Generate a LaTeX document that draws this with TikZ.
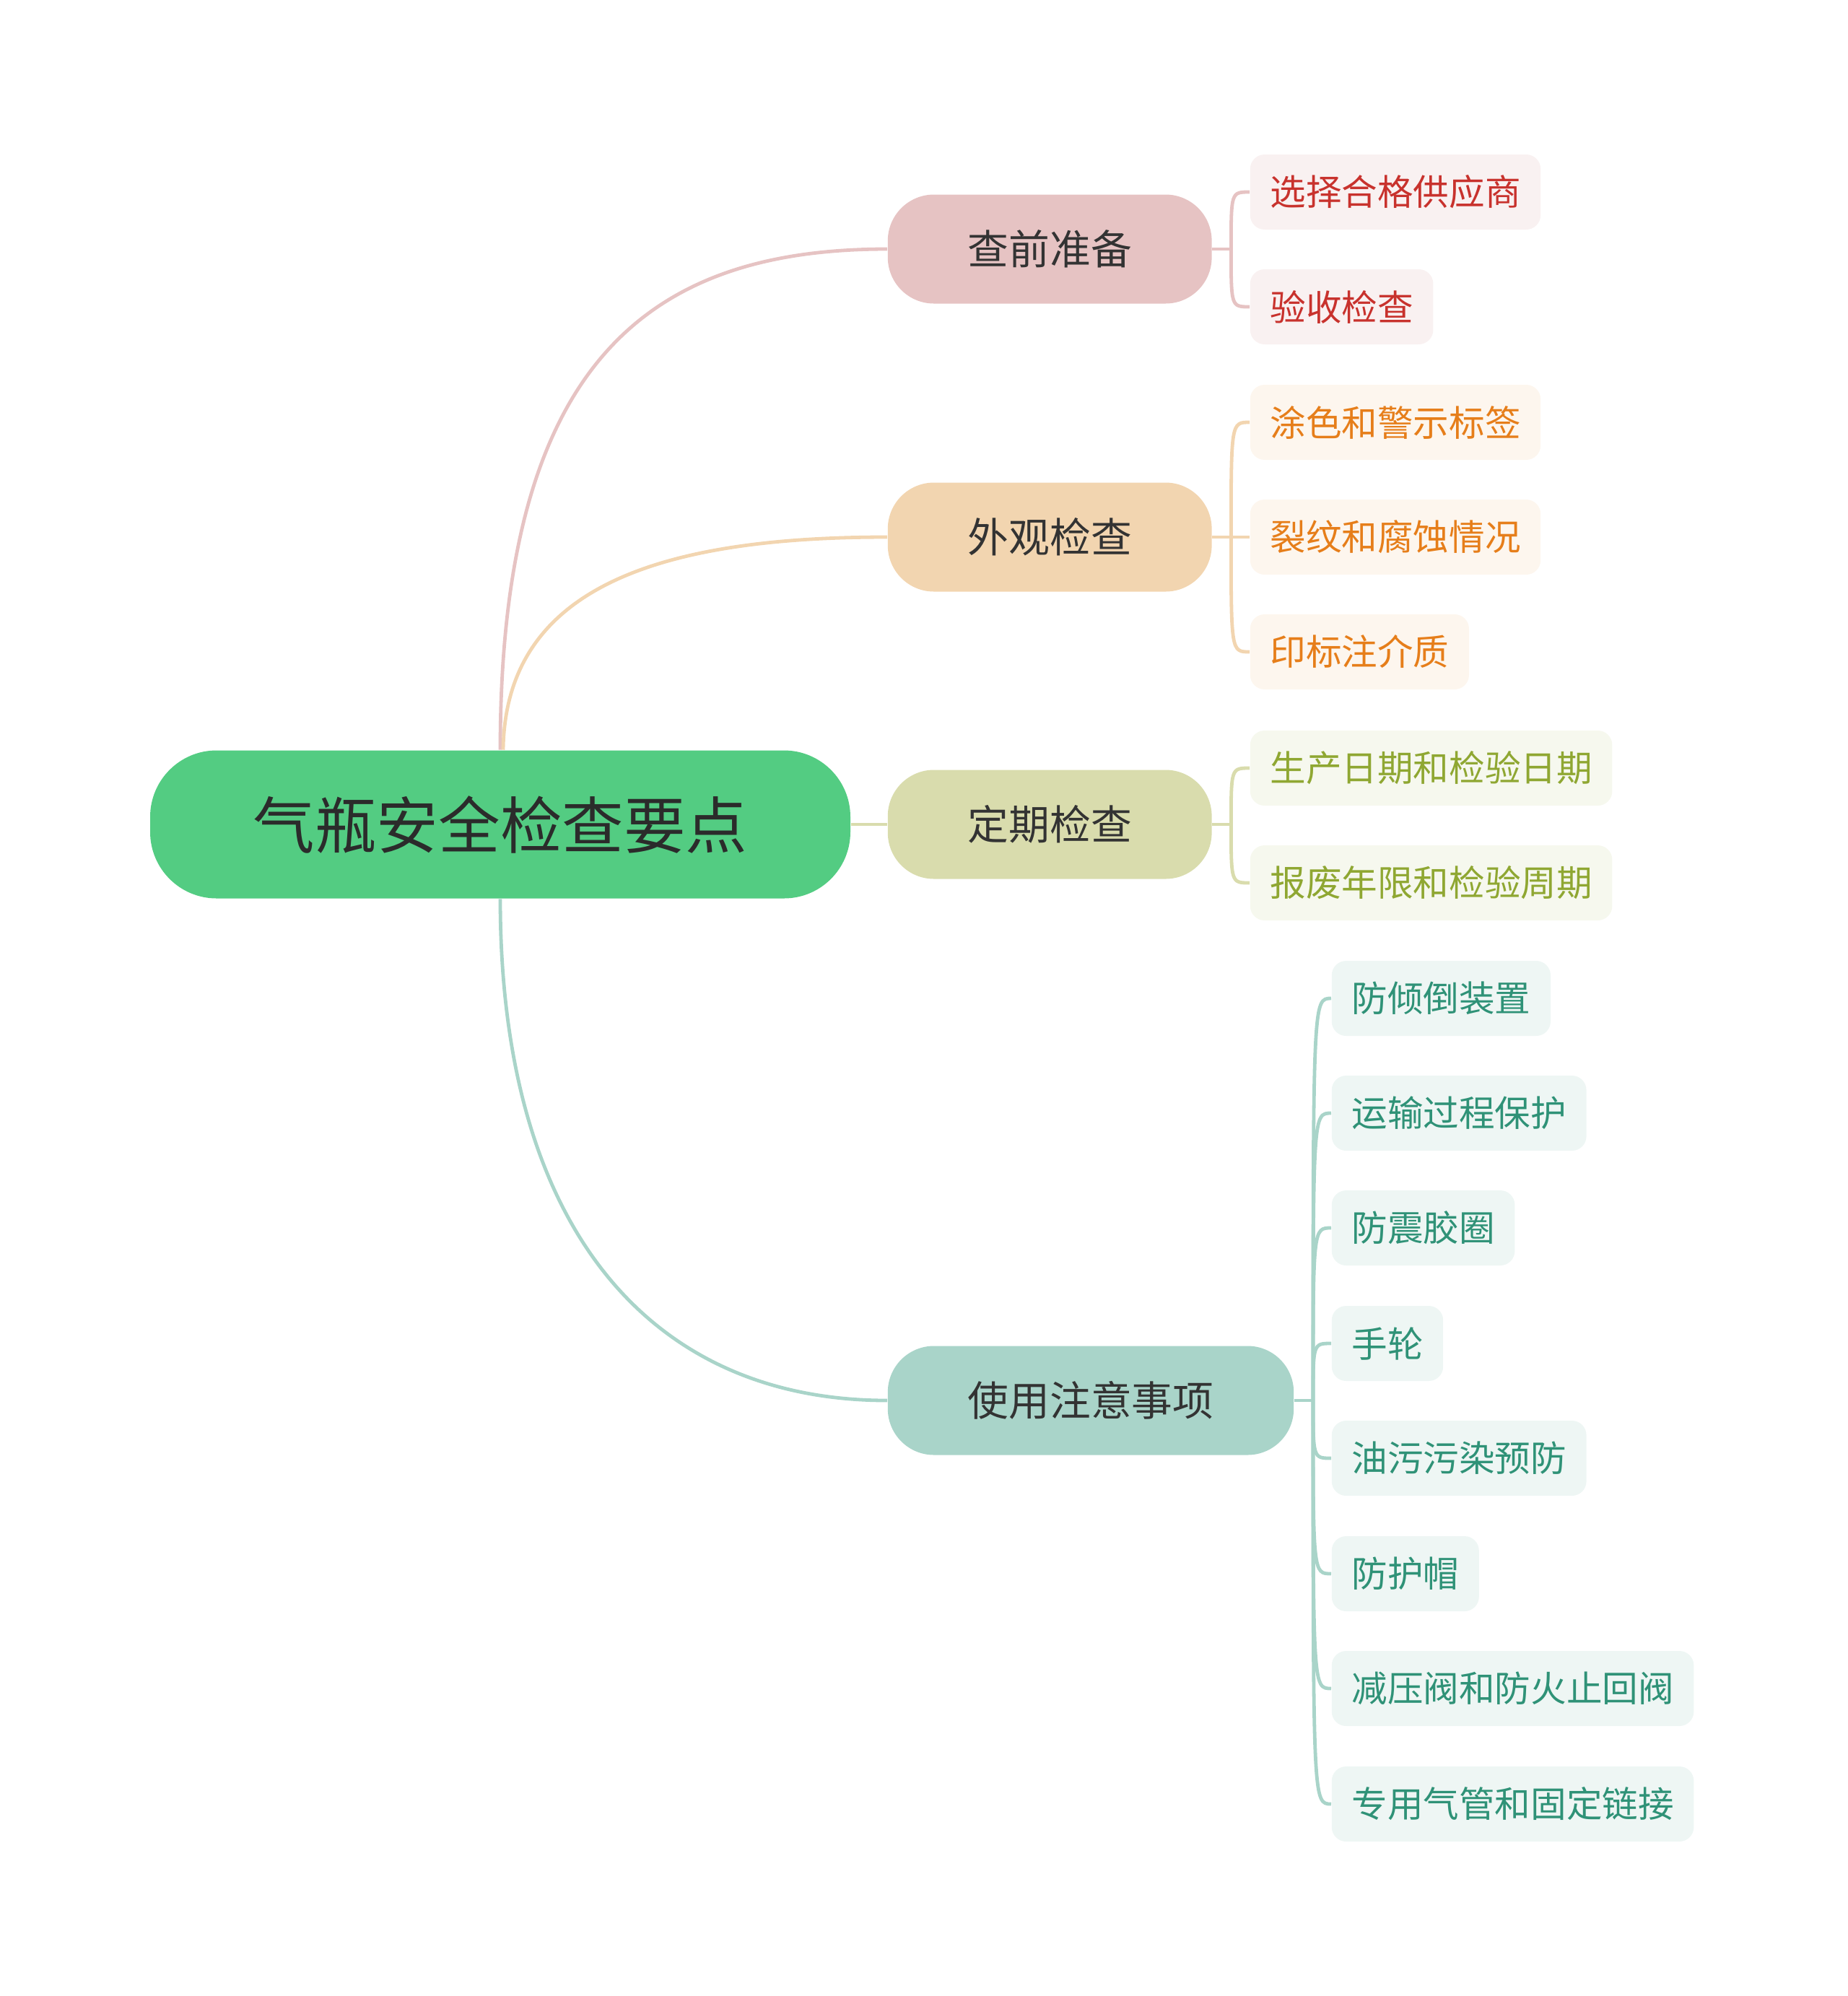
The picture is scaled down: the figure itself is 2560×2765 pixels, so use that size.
\documentclass[tikz,border=0pt]{standalone}
\usepackage{fontspec}
\setmainfont{Noto Sans CJK SC}
\usepackage{tikz}
\usetikzlibrary{shapes.geometric}

\definecolor{rootfill}{RGB}{83,204,130}
\definecolor{prepfill}{RGB}{230,195,195}
\definecolor{lookfill}{RGB}{242,213,176}
\definecolor{termfill}{RGB}{217,220,173}
\definecolor{usefill}{RGB}{169,212,201}
\definecolor{prepleaf}{RGB}{249,241,241}
\definecolor{lookleaf}{RGB}{253,246,238}
\definecolor{termleaf}{RGB}{246,248,238}
\definecolor{useleaf}{RGB}{238,246,244}
\definecolor{preptext}{RGB}{200,50,45}
\definecolor{looktext}{RGB}{230,126,26}
\definecolor{termtext}{RGB}{143,167,50}
\definecolor{usetext}{RGB}{47,146,119}

\begin{document}
\begin{tikzpicture}[x=0.25pt,y=0.25pt,yscale=-1,xscale=1,
  rootnode/.style={fill=rootfill, text={rgb,255:red,43;green,43;blue,43}, rounded corners=23pt, minimum width=242.5pt, minimum height=51.25pt, inner sep=0pt, font=\fontsize{21.4pt}{24pt}\selectfont},
  lvone/.style={fill=#1, text={rgb,255:red,51;green,51;blue,51}, rounded corners=16pt, minimum height=37.75pt, inner xsep=27.7pt, inner ysep=0pt, font=\fontsize{14.2pt}{17pt}\selectfont},
  lvtwo/.style 2 args={fill=#1, text=#2, rounded corners=5pt, minimum height=26pt, inner xsep=6.9pt, inner ysep=0pt, font=\fontsize{12.4pt}{15pt}\selectfont},
  link/.style={draw=#1, line width=1.2pt}
]
\useasboundingbox (0,0) rectangle (2560,2765);

% Text Node
\draw (693,1142) node [rootnode] (root) {气瓶安全检查要点};

% Text Node
\draw (1229,345) node [anchor=west][lvone=prepfill] (prep) {查前准备};
% Text Node
\draw (1229,744) node [anchor=west][lvone=lookfill] (look) {外观检查};
% Text Node
\draw (1229,1142) node [anchor=west][lvone=termfill] (term) {定期检查};
% Text Node
\draw (1229,1940) node [anchor=west][lvone=usefill] (use) {使用注意事项};

% Text Node
\draw (1731,266) node [anchor=west][lvtwo={prepleaf}{preptext}] (prep-a) {选择合格供应商};
\draw (1731,425) node [anchor=west][lvtwo={prepleaf}{preptext}] (prep-b) {验收检查};

% Text Node
\draw (1731,585) node [anchor=west][lvtwo={lookleaf}{looktext}] (look-a) {涂色和警示标签};
\draw (1731,744) node [anchor=west][lvtwo={lookleaf}{looktext}] (look-b) {裂纹和腐蚀情况};
\draw (1731,903) node [anchor=west][lvtwo={lookleaf}{looktext}] (look-c) {印标注介质};

% Text Node
\draw (1731,1064) node [anchor=west][lvtwo={termleaf}{termtext}] (term-a) {生产日期和检验日期};
\draw (1731,1223) node [anchor=west][lvtwo={termleaf}{termtext}] (term-b) {报废年限和检验周期};

% Text Node
\draw (1844,1383) node [anchor=west][lvtwo={useleaf}{usetext}] (use-a) {防倾倒装置};
\draw (1844,1542) node [anchor=west][lvtwo={useleaf}{usetext}] (use-b) {运输过程保护};
\draw (1844,1701) node [anchor=west][lvtwo={useleaf}{usetext}] (use-c) {防震胶圈};
\draw (1844,1861) node [anchor=west][lvtwo={useleaf}{usetext}] (use-d) {手轮};
\draw (1844,2020) node [anchor=west][lvtwo={useleaf}{usetext}] (use-e) {油污污染预防};
\draw (1844,2180) node [anchor=west][lvtwo={useleaf}{usetext}] (use-f) {防护帽};
\draw (1844,2339) node [anchor=west][lvtwo={useleaf}{usetext}] (use-g) {减压阀和防火止回阀};
\draw (1844,2499) node [anchor=west][lvtwo={useleaf}{usetext}] (use-h) {专用气管和固定链接};

%Curve Lines
\draw [link=prepfill] (root.north) .. controls (693,500) and (900,345) .. (prep.west);
%Curve Lines
\draw [link=lookfill] ([xshift=1pt]root.north) .. controls (700,820) and (900,744) .. (look.west);
%Straight Lines
\draw [link=termfill] (root.east) -- (term.west);
%Curve Lines
\draw [link=usefill] (root.south) .. controls (693,1700) and (900,1940) .. (use.west);

% junctions
\coordinate (prep-j) at ([xshift=6.5pt]prep.east);
\coordinate (look-j) at ([xshift=6.5pt]look.east);
\coordinate (term-j) at ([xshift=6.5pt]term.east);
\coordinate (use-j) at ([xshift=6.5pt]use.east);

%Curve Lines
\draw [link=prepfill] (prep.east) -- (prep-j);
\foreach \leaf in {prep-a,prep-b}
  \draw [link=prepfill] (prep-j) .. controls (prep-j |- \leaf.west) and (prep-j |- \leaf.west) .. (\leaf.west);
%Curve Lines
\draw [link=lookfill] (look.east) -- (look-j);
\foreach \leaf in {look-a,look-b,look-c}
  \draw [link=lookfill] (look-j) .. controls (look-j |- \leaf.west) and (look-j |- \leaf.west) .. (\leaf.west);
%Curve Lines
\draw [link=termfill] (term.east) -- (term-j);
\foreach \leaf in {term-a,term-b}
  \draw [link=termfill] (term-j) .. controls (term-j |- \leaf.west) and (term-j |- \leaf.west) .. (\leaf.west);
%Curve Lines
\draw [link=usefill] (use.east) -- (use-j);
\foreach \leaf in {use-a,use-b,use-c,use-d,use-e,use-f,use-g,use-h}
  \draw [link=usefill] (use-j) .. controls (use-j |- \leaf.west) and (use-j |- \leaf.west) .. (\leaf.west);

\end{tikzpicture}
\end{document}
